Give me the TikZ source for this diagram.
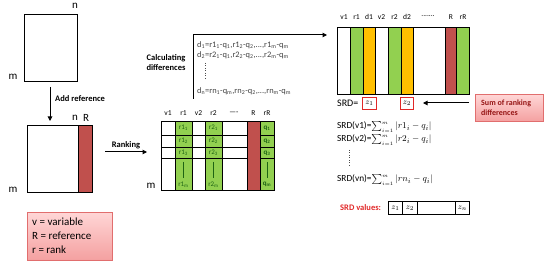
\documentclass[tikz,border=0pt]{standalone}
\usepackage{fontspec}
\setmainfont{Carlito}
\usetikzlibrary{arrows.meta}
\definecolor{cgreen}{RGB}{146,208,80}
\definecolor{corange}{RGB}{255,192,0}
\definecolor{cred}{RGB}{192,80,77}
\definecolor{pinkA}{RGB}{255,214,214}
\definecolor{pinkB}{RGB}{244,160,160}
\definecolor{pinkedge}{RGB}{225,110,110}
\definecolor{dgreen}{RGB}{30,100,20}
\definecolor{darkred}{RGB}{150,20,20}
\definecolor{srdred}{RGB}{225,40,40}
\newcommand{\srdsum}{\sum_{\scriptscriptstyle i=1}^{\scriptscriptstyle m}}
\begin{document}
\begin{tikzpicture}[x=1pt,y=-1pt,
  box/.style={draw=black, line width=0.9pt, anchor=north west, inner sep=0pt, outer sep=0pt},
  colbox/.style={draw=black, line width=0.6pt, anchor=north west, inner sep=0pt, outer sep=0pt},
  arr/.style={line width=1pt, -{Triangle[length=4.5pt,width=4.5pt]}},
  lbl/.style={font=\fontsize{11}{11}\selectfont, inner sep=0pt},
  bold/.style={font=\fontsize{8.5}{10}\selectfont\bfseries, inner sep=0pt},
  hdr/.style={font=\fontsize{7.5}{8}\selectfont, inner sep=0pt},
  cell/.style={font=\fontsize{7}{7}\selectfont, text=dgreen, inner sep=0pt},
  dtxt/.style={font=\fontsize{8.4}{9}\selectfont, text=black!75, anchor=west, inner sep=0pt},
  ftxt/.style={font=\fontsize{9.3}{10}\selectfont, anchor=west, inner sep=0pt},
  legtxt/.style={font=\fontsize{11}{12}\selectfont, anchor=west, inner sep=0pt},
  pinkbox/.style={draw=pinkedge, line width=0.6pt, top color=pinkA, bottom color=pinkB, anchor=north west, inner sep=0pt},
  zbox/.style={draw=srdred, line width=0.9pt, anchor=north west, inner sep=0pt, minimum width=14pt, minimum height=12pt},
  vcell/.style={draw=black, line width=0.9pt, anchor=north west, inner sep=0pt, minimum height=13pt},
  ztxt/.style={font=\fontsize{8.5}{8.5}\selectfont, inner sep=0pt}
]
\useasboundingbox (0,0) rectangle (550,264);

% ---- first matrix
\node[box, minimum width=53pt, minimum height=67pt] (M1) at (24,14) {};
\node[lbl] (M1n) at (75,6) {n};
\node[lbl] (M1m) at (13,77) {m};

% ---- add reference arrow
\coordinate (a1s) at (50,87);
\coordinate (a1e) at (50,121);
\draw[arr] (a1s) -- (a1e);
\node[bold, anchor=west] (addref) at (55,99) {Add reference};

% ---- second matrix
\node[box, minimum width=65pt, minimum height=67pt] (M2) at (27,125) {};
\node[box, fill=cred, minimum width=14pt, minimum height=67pt] (M2R) at (78,125) {};
\node[lbl] (M2n) at (75,118) {n};
\node[lbl] (M2Rl) at (86,118) {R};
\node[lbl] (M2m) at (13,190) {m};

% ---- legend
\node[pinkbox, minimum width=85pt, minimum height=48pt] (legend) at (27,212) {};
\node[legtxt] (lg1) at (32,222) {v = variable};
\node[legtxt] (lg2) at (32,236) {R = reference};
\node[legtxt] (lg3) at (32,250) {r = rank};

% ---- ranking arrow
\coordinate (a2s) at (105,152);
\coordinate (a2e) at (147,152);
\draw[arr] (a2s) -- (a2e);
\node[bold] (rank) at (126,145) {Ranking};

% ---- middle matrix
\node[box, minimum width=113pt, minimum height=69pt] (M3) at (161,121) {};
\node[colbox, fill=cgreen, minimum width=17pt, minimum height=69pt] (M3r1) at (175,121) {};
\node[colbox, fill=cgreen, minimum width=17pt, minimum height=69pt] (M3r2) at (205,121) {};
\node[colbox, fill=cgreen, minimum width=14pt, minimum height=69pt] (M3rR) at (260,121) {};
\foreach \yy in {135,147,158} \draw[line width=0.6pt] (161,\yy) -- (274,\yy);
\node[colbox, fill=cred, minimum width=13pt, minimum height=69pt] (M3R) at (247,121) {};
\draw[line width=0.9pt] (161,121) rectangle (274,190);
\node[cell] (c11) at (183.5,128) {r1\textsubscript{1}};
\node[cell] (c12) at (183.5,141) {r1\textsubscript{2}};
\node[cell] (c13) at (183.5,153) {r1\textsubscript{3}};
\node[cell] (c1m) at (183.5,184.5) {r1\textsubscript{m}};
\draw[dgreen, line width=0.4pt] (183.5,162) -- (183.5,178);
\node[cell] (c21) at (213.5,128) {r2\textsubscript{1}};
\node[cell] (c22) at (213.5,141) {r2\textsubscript{2}};
\node[cell] (c23) at (213.5,153) {r2\textsubscript{3}};
\node[cell] (c2m) at (213.5,184.5) {r2\textsubscript{m}};
\draw[dgreen, line width=0.4pt] (213.5,162) -- (213.5,178);
\node[cell, font=\fontsize{7}{7}\selectfont\bfseries] (c31) at (267,128) {q\textsubscript{1}};
\node[cell, font=\fontsize{7}{7}\selectfont\bfseries] (c32) at (267,141) {q\textsubscript{2}};
\node[cell, font=\fontsize{7}{7}\selectfont\bfseries] (c33) at (267,153) {q\textsubscript{3}};
\node[cell, font=\fontsize{7}{7}\selectfont\bfseries] (c3m) at (267,184.5) {q\textsubscript{m}};
\draw[dgreen, line width=0.4pt] (267,162) -- (267,178);
\node[hdr] (h1) at (168,113) {v1};
\node[hdr] (h2) at (183.5,113) {r1};
\node[hdr] (h3) at (198.5,113) {v2};
\node[hdr] (h4) at (213.5,113) {r2};
\node[hdr] (h5) at (234,113) {----};
\node[hdr] (h6) at (253.5,113) {R};
\node[hdr] (h7) at (267,113) {rR};
\node[lbl] (M3m) at (151,186) {m};

% ---- calculating differences
\node[bold, align=center] (calc) at (166,63) {Calculating\\differences};
\coordinate (b1) at (193,99);
\coordinate (b2) at (193,35);
\coordinate (b3) at (327,35);
\draw[arr] (b1) -- (b2) -- (b3);
\node[dtxt] (d1) at (197,45)
  {d\textsubscript{1}=r1\textsubscript{1}-q\textsubscript{1},r1\textsubscript{2}-q\textsubscript{2},...,r1\textsubscript{m}-q\textsubscript{m}};
\node[dtxt] (d2) at (197,55)
  {d\textsubscript{2}=r2\textsubscript{1}-q\textsubscript{1},r2\textsubscript{2}-q\textsubscript{2},...,r2\textsubscript{m}-q\textsubscript{m}};
\draw[black!70, line width=0.5pt, dotted] (205,63) -- (205,79);
\node[dtxt] (dn) at (197,91)
  {d\textsubscript{n}=rn\textsubscript{1}-q\textsubscript{m},rn\textsubscript{2}-q\textsubscript{2},...,rn\textsubscript{m}-q\textsubscript{m}};

% ---- right matrix
\node[box, minimum width=132pt, minimum height=67pt] (M4) at (337,27) {};
\node[colbox, fill=cgreen, minimum width=13pt, minimum height=67pt] (M4r1) at (350,27) {};
\node[colbox, fill=corange, minimum width=12pt, minimum height=67pt] (M4d1) at (363,27) {};
\node[colbox, fill=cgreen, minimum width=13pt, minimum height=67pt] (M4r2) at (388,27) {};
\node[colbox, fill=corange, minimum width=12pt, minimum height=67pt] (M4d2) at (401,27) {};
\node[colbox, fill=cred, minimum width=11pt, minimum height=67pt] (M4R) at (445,27) {};
\node[colbox, fill=cgreen, minimum width=13pt, minimum height=67pt] (M4rR) at (456,27) {};
\draw[line width=0.9pt] (337,27) rectangle (469,94);
\node[hdr] (g1) at (344,17) {v1};
\node[hdr] (g2) at (356.5,17) {r1};
\node[hdr] (g3) at (369,17) {d1};
\node[hdr] (g4) at (381.5,17) {v2};
\node[hdr] (g5) at (394.5,17) {r2};
\node[hdr] (g6) at (407,17) {d2};
\node[hdr] (g7) at (428,16) {.......};
\node[hdr] (g8) at (451,17) {R};
\node[hdr] (g9) at (463,17) {rR};

\node[font=\fontsize{10}{10}\selectfont, anchor=west, inner sep=0pt] (srdeq) at (337,103) {SRD=};
\node[zbox] (z1) at (362,97) {};
\node[ztxt] at (z1.center) {$z_1$};
\node[zbox, minimum width=13pt] (z2) at (400,97) {};
\node[ztxt] at (z2.center) {$z_2$};

\node[pinkbox, minimum width=68pt, minimum height=27pt] (sumbox) at (475,94) {};
\node[bold, font=\fontsize{8}{9.5}\selectfont\bfseries, text=darkred, align=left, anchor=west] (sumtxt) at (481,107.5) {Sum of ranking\\differences};
\coordinate (a3s) at (469,103);
\coordinate (a3e) at (423,103);
\draw[arr] (a3s) -- (a3e);

% ---- SRD formulas
\node[ftxt] (f1) at (337,127) {SRD(v1)=$\srdsum|r1_i-q_i|$};
\node[ftxt] (f2) at (337,140) {SRD(v2)=$\srdsum|r2_i-q_i|$};
\draw[black!70, line width=0.5pt, dotted] (349,150) -- (349,166);
\node[ftxt] (fn) at (337,180) {SRD(vn)=$\srdsum|rn_i-q_i|$};

% ---- SRD values
\node[font=\fontsize{8.5}{8.5}\selectfont\bfseries, text=srdred, anchor=west, inner sep=0pt] (srdv) at (340,208) {SRD values:};
\node[vcell, minimum width=14pt] (v1c) at (388,201) {};
\node[vcell, minimum width=15pt] (v2c) at (402,201) {};
\node[vcell, minimum width=38pt] (v3c) at (417,201) {};
\node[vcell, minimum width=14pt] (v4c) at (455,201) {};
\node[ztxt] at (v1c.center) {$z_1$};
\node[ztxt] at (v2c.center) {$z_2$};
\node[ztxt] at (v4c.center) {$z_n$};
\end{tikzpicture}
\end{document}
